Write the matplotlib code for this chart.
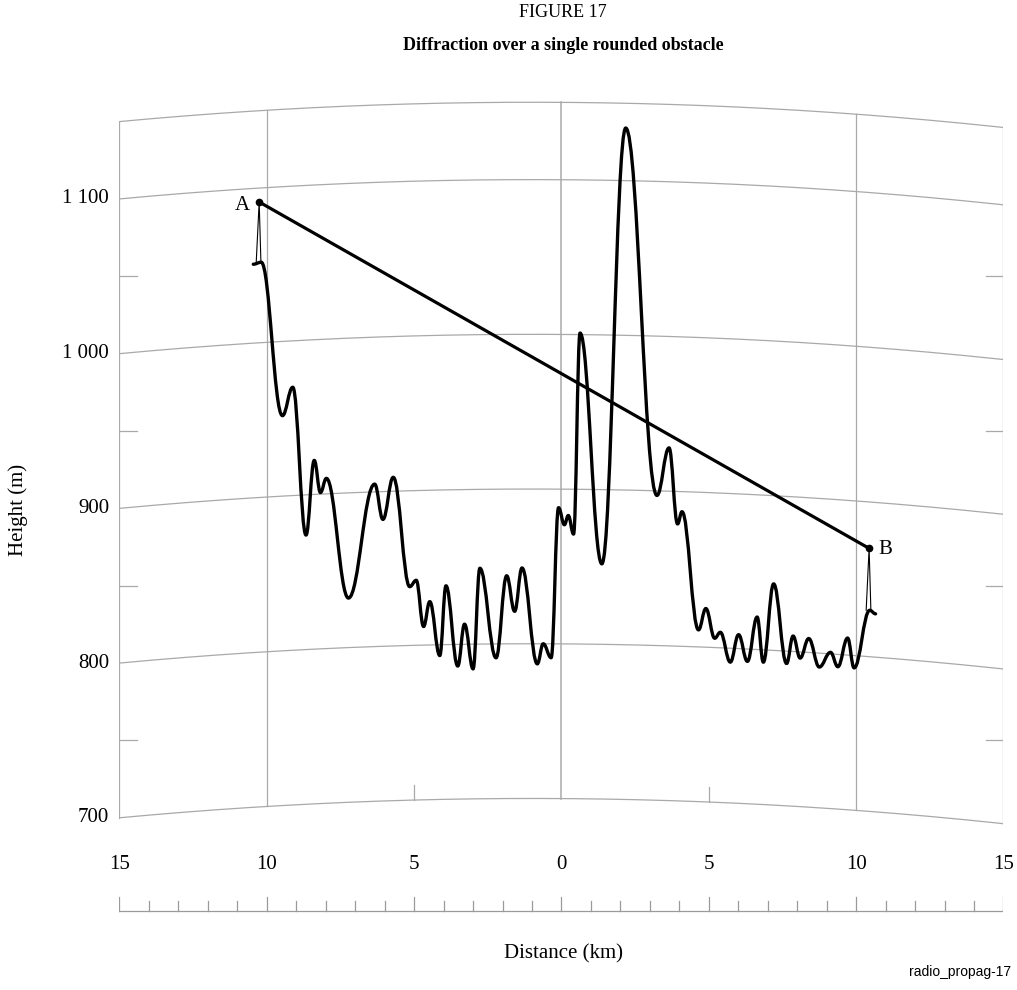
import numpy as np
import matplotlib
matplotlib.use("Agg")
import matplotlib.pyplot as plt
from matplotlib.path import Path
from matplotlib.patches import PathPatch

plt.rcParams['font.family'] = ['Liberation Serif', 'DejaVu Serif']

# Terrain profile: distance from the obstacle (km) and ground height (m)
terrain_km = [-10.46, -10.19, -9.47, -9.12, -8.67, -8.39, -8.18, -7.98, -7.23, -6.34,
              -6.06, -5.71, -5.15, -4.93, -4.68, -4.47, -4.13, -3.92, -3.52, -3.29,
              -3.00, -2.77, -2.22, -1.86, -1.59, -1.34, -0.82, -0.62, -0.35, -0.10,
              0.10, 0.23, 0.41, 0.63, 1.37, 2.18, 3.24, 3.65, 3.94, 4.09,
              4.65, 4.90, 5.20, 5.39, 5.73, 6.01, 6.31, 6.64, 6.85, 7.20,
              7.64, 7.86, 8.10, 8.39, 8.75, 9.13, 9.38, 9.71, 9.93, 10.46, 10.66]
terrain_m = [1051, 1052, 952, 970, 874, 922, 901, 910, 832, 905,
             882, 909, 838, 842, 812, 828, 793, 838, 786, 813,
             784, 849, 791, 844, 821, 849, 787, 800, 791, 888,
             877, 883, 871, 1001, 852, 1134, 897, 928, 879, 887,
             811, 825, 806, 810, 791, 809, 792, 821, 792, 843,
             792, 810, 796, 809, 791, 801, 792, 811, 792, 830, 828]

# Terminals A and B: position, antenna top and ground height below it
term_names = ["A", "B"]
term_km = [-10.26, 10.44]
term_top_m = [1091, 870]
term_ground_m = [1052, 830]

height_ticks = [700, 800, 900, 1000, 1100]
height_labels = ["700", "800", "900", "1 000", "1 100"]
dist_ticks = [-15, -10, -5, 0, 5, 10, 15]
dist_labels = ["15", "10", "5", "0", "5", "10", "15"]


def bulge(x):
    # effective earth curvature added to every height
    return (196.0 - (np.asarray(x) + 1.0) ** 2) / 15.7


fig = plt.figure(figsize=(10.17, 9.9), dpi=100)
ax = fig.add_axes([0.1175, 0.01768, 0.8692, 0.9064])
ax.set_xlim(-15, 15)
ax.set_ylim(600, 1180)
ax.axis("off")

grid_c = "#a9a9a9"
xs = np.linspace(-15, 15, 301)

# curved height lines and the top border
for h in height_ticks + [1150]:
    ax.plot(xs, h + bulge(xs), color=grid_c, lw=0.9, zorder=1)

# frame sides and distance verticals
for xv in [-15, -10, 0, 10, 15]:
    ax.plot([xv, xv], [700 + bulge(xv), 1150 + bulge(xv)], color=grid_c,
            lw=1.1 if xv == 0 else 0.9, zorder=1)
for xv in [-5, 5]:
    ax.plot([xv, xv], [700 + bulge(xv), 710 + bulge(xv)], color=grid_c, lw=0.9, zorder=1)

# half-step marks on both sides
for h in [750, 850, 950, 1050]:
    ax.plot([-15, -14.42], [h, h], color=grid_c, lw=0.9, zorder=1)
    ax.plot([14.42, 15], [h, h], color=grid_c, lw=0.9, zorder=1)

for h, lab in zip(height_ticks, height_labels):
    ax.text(-15.35, h, lab, ha="right", va="center", fontsize=15)

# terrain drawn as a smooth path through the profile points
tx = np.array(terrain_km)
ty = np.array(terrain_m) + bulge(tx)
verts = [(tx[0], ty[0])]
codes = [Path.MOVETO]
for i in range(len(tx) - 1):
    dx = tx[i + 1] - tx[i]
    verts += [(tx[i] + 0.4 * dx, ty[i]), (tx[i + 1] - 0.4 * dx, ty[i + 1]),
              (tx[i + 1], ty[i + 1])]
    codes += [Path.CURVE4] * 3
ax.add_patch(PathPatch(Path(verts, codes), fill=False, lw=2.4, color="black",
                       capstyle="round", joinstyle="round", zorder=3))

# antennas, the direct path A-B and the labels
top_y = [t + bulge(x) for x, t in zip(term_km, term_top_m)]
for x, ytop, g in zip(term_km, top_y, term_ground_m):
    yg = g + bulge(x)
    ax.plot([x - 0.1, x, x + 0.06], [yg, ytop, yg], color="black", lw=0.8, zorder=3)
ax.plot(term_km, top_y, color="black", lw=2.3, marker="o", ms=4.5,
        solid_capstyle="round", zorder=4)
ax.text(term_km[0] - 0.3, top_y[0] - 2, term_names[0], ha="right", va="center", fontsize=15)
ax.text(term_km[1] + 0.3, top_y[1] - 1, term_names[1], ha="left", va="center", fontsize=15)

# distance ruler under the chart
base = 640.0
ax.plot([-15, 15], [base, base], color="#9a9a9a", lw=0.9)
for k in range(-15, 16):
    top = base + (9.0 if k % 5 == 0 else 6.0)
    ax.plot([k, k], [base, top], color="#9a9a9a", lw=0.9)
for xv, lab in zip(dist_ticks, dist_labels):
    ax.text(xv, 669.5, lab, ha="center", va="center", fontsize=15)

fig.text(0.5536, 0.9869, "FIGURE 17", ha="center", va="center", fontsize=13)
fig.text(0.5536, 0.9545, "Diffraction over a single rounded obstacle",
         ha="center", va="center", fontsize=13, fontweight="bold")
fig.text(0.0177, 0.4848, "Height (m)", rotation=90, ha="center", va="center", fontsize=15)
fig.text(0.5536, 0.0364, "Distance (km)", ha="center", va="center", fontsize=15)
fig.text(0.944, 0.018, "radio_propag-17", ha="center", va="center", fontsize=10,
         family="Liberation Sans")

fig.savefig("out.png", dpi=100)
